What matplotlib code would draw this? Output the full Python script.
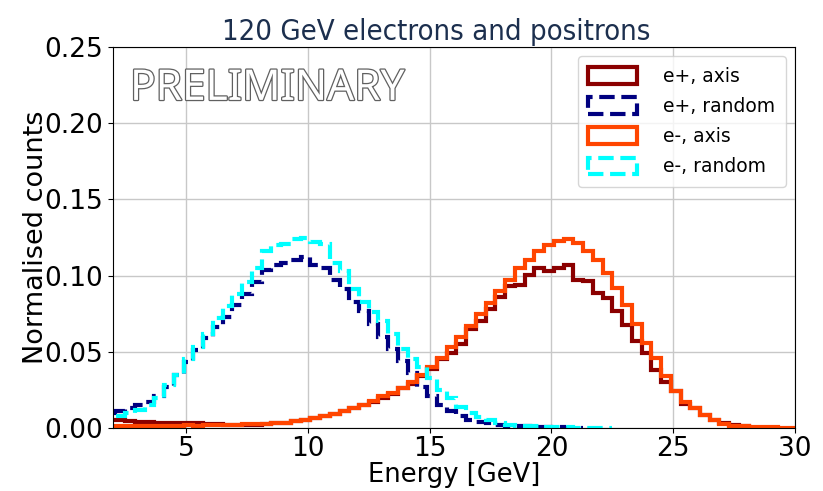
import numpy as np
import matplotlib
matplotlib.use("Agg")
import matplotlib.pyplot as plt
import matplotlib.patheffects as pe
from matplotlib import font_manager
from matplotlib.patches import Patch

# histogram binning (GeV)
BIN_START = 1.7
BIN_WIDTH = 0.4

# normalised counts per bin, starting at BIN_START
ep_axis = [0.005, 0.005, 0.0045, 0.004, 0.004, 0.0035, 0.0035, 0.003, 0.003, 0.003,
           0.0025, 0.0025, 0.002, 0.002, 0.002, 0.002, 0.0025, 0.003, 0.0035, 0.0045,
           0.0055, 0.0065, 0.008, 0.0095, 0.011, 0.013, 0.015, 0.017, 0.020, 0.022,
           0.026, 0.029, 0.034, 0.039, 0.045, 0.049, 0.055, 0.065, 0.070, 0.078,
           0.086, 0.093, 0.094, 0.1007, 0.105, 0.103, 0.105, 0.1068, 0.097, 0.0965,
           0.0886, 0.0853, 0.0765, 0.0678, 0.0568, 0.049, 0.038, 0.030, 0.024, 0.016,
           0.013, 0.0086, 0.0053, 0.0033, 0.002, 0.001]

ep_random = [0.010, 0.011, 0.013, 0.015, 0.017, 0.021, 0.027, 0.035, 0.043, 0.051,
             0.059, 0.066, 0.073, 0.081, 0.088, 0.096, 0.104, 0.107, 0.108, 0.110,
             0.112, 0.107, 0.105, 0.097, 0.091, 0.083, 0.077, 0.068, 0.060, 0.052,
             0.044, 0.036, 0.027, 0.021, 0.015, 0.011, 0.008, 0.0055, 0.004, 0.003,
             0.002, 0.0015, 0.0012, 0.001, 0.0008, 0.0006, 0.0004, 0.0003, 0.0002]

em_axis = [0.0012, 0.0014, 0.0013, 0.0015, 0.0014, 0.0015, 0.0016, 0.0015, 0.0017, 0.0016,
           0.0018, 0.0019, 0.002, 0.0021, 0.0023, 0.0025, 0.0027, 0.003, 0.0035, 0.0045,
           0.0055, 0.0065, 0.008, 0.009, 0.011, 0.013, 0.015, 0.018, 0.021, 0.023,
           0.026, 0.030, 0.035, 0.040, 0.046, 0.053, 0.060, 0.067, 0.075, 0.082,
           0.090, 0.097, 0.105, 0.1105, 0.116, 0.120, 0.1226, 0.1237, 0.1215, 0.116,
           0.1105, 0.1018, 0.092, 0.081, 0.068, 0.056, 0.0458, 0.034, 0.024, 0.0173,
           0.013, 0.0086, 0.0053, 0.0026, 0.0015, 0.001, 0.0007, 0.0005, 0.0004, 0.0003, 0.0002]

em_random = [0.007, 0.008, 0.010, 0.012, 0.015, 0.020, 0.028, 0.035, 0.045, 0.053,
             0.062, 0.072, 0.080, 0.088, 0.096, 0.105, 0.116, 0.120, 0.121, 0.124,
             0.125, 0.122, 0.121, 0.108, 0.103, 0.091, 0.083, 0.076, 0.070, 0.062,
             0.052, 0.045, 0.040, 0.033, 0.025, 0.020, 0.014, 0.010, 0.0075, 0.005,
             0.003, 0.002, 0.0015, 0.0012, 0.001, 0.0008, 0.0006, 0.0004, 0.0003, 0.0002,
             0.0001, 0.0001]

series = [
    ("e+, axis", ep_axis, "#8b0000", "-"),
    ("e+, random", ep_random, "#000080", "--"),
    ("e-, axis", em_axis, "#ff4500", "-"),
    ("e-, random", em_random, "#00ffff", "--"),
]


def edges_for(values):
    return BIN_START + BIN_WIDTH * np.arange(len(values) + 1)


def narrow_font():
    # pick a condensed face for the title if one is installed
    tries = [
        dict(family="Liberation Sans Narrow"),
        dict(family="Liberation Sans", stretch="condensed"),
        dict(family="DejaVu Sans", stretch="condensed"),
    ]
    for kw in tries:
        fp = font_manager.FontProperties(**kw)
        try:
            path = font_manager.findfont(fp, fallback_to_default=False)
        except Exception:
            continue
        if "Narrow" in path or "Condensed" in path:
            return font_manager.FontProperties(fname=path)
    return font_manager.FontProperties(family="DejaVu Sans")


fig = plt.figure(figsize=(8.23, 4.91), dpi=100)
ax = fig.add_axes([113 / 823, 1 - 428 / 491, (795 - 113) / 823, (428 - 47) / 491])

handles = []
for label, vals, color, ls in series:
    ax.stairs(vals, edges_for(vals), color=color, linestyle=ls, linewidth=3,
              baseline=0)
    handles.append(Patch(facecolor="none", edgecolor=color, linestyle=ls,
                         linewidth=3, label=label))

ax.set_xlim(2, 30)
ax.set_ylim(0, 0.25)
ax.set_xticks([5, 10, 15, 20, 25, 30])
ax.set_yticks([0.0, 0.05, 0.10, 0.15, 0.20, 0.25])
ax.yaxis.set_major_formatter(matplotlib.ticker.FormatStrFormatter("%.2f"))
ax.tick_params(labelsize=19)
ax.tick_params(axis="x", pad=2.5)
ax.grid(True, color="#c8c8c8", linewidth=1)
ax.set_axisbelow(True)
ax.set_xlabel("Energy [GeV]", fontsize=18.5, labelpad=0)
ax.set_ylabel("Normalised counts", fontsize=19.5, labelpad=-3)

ax.legend(handles=handles, loc="upper right", fontsize=13.5, handlelength=2.6,
          handleheight=1.0, borderpad=0.55, labelspacing=0.6, handletextpad=1.4)

# watermark
ax.text(0.025, 0.89, "PRELIMINARY", transform=ax.transAxes, fontsize=30.5,
        family="Noto Sans", color="white", va="center", ha="left",
        path_effects=[pe.Stroke(linewidth=1.8, foreground="#606060"), pe.Normal()])

fig.text(436 / 823, 1 - 40 / 491, "120 GeV electrons and positrons",
         fontproperties=narrow_font(), fontsize=21,
         color="#1c2f4e", ha="center", va="baseline")

fig.savefig("out.png", dpi=100)
